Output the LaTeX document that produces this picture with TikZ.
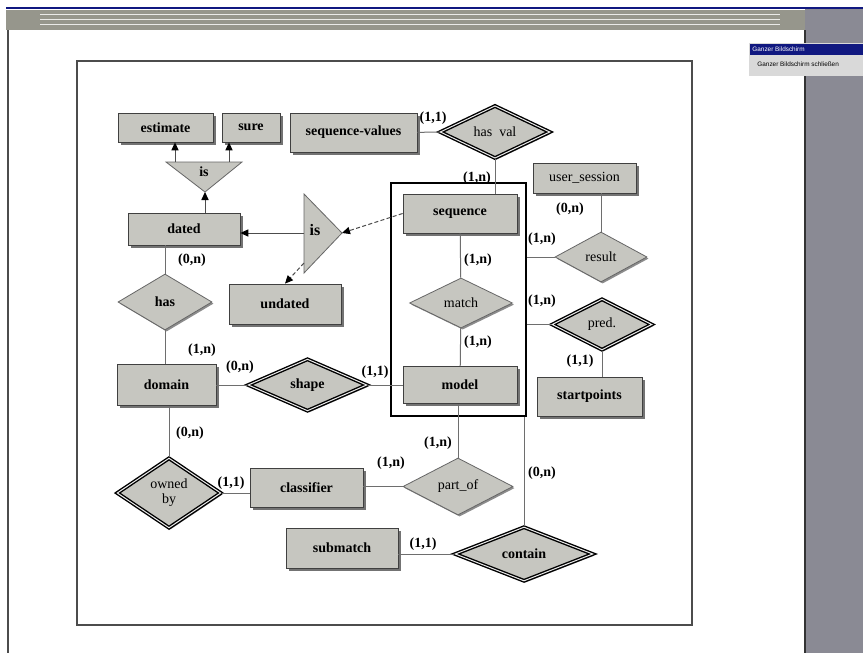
\documentclass[tikz,border=0pt]{standalone}
\usepackage{fontspec}
\setmainfont{Liberation Serif}
\newfontfamily\uifont{Liberation Sans}
\usetikzlibrary{arrows.meta}
\usetikzlibrary{shapes.geometric, shadows}

\definecolor{erfill}{RGB}{198,198,192}
\definecolor{erline}{RGB}{110,110,110}
\definecolor{barblue}{RGB}{16,24,128}
\definecolor{bargray}{RGB}{150,150,140}
\definecolor{sidegray}{RGB}{138,138,148}

\tikzset{
  entity/.style={draw=black!75, fill=erfill, inner sep=0pt,
    font=\bfseries\fontsize{7}{8}\selectfont,
    drop shadow={shadow xshift=1.4pt, shadow yshift=-1.4pt, fill=black!55, opacity=1}},
  relation/.style={diamond, draw=black!60, fill=erfill, inner sep=0pt,
    font=\fontsize{7}{8}\selectfont,
    drop shadow={shadow xshift=0.8pt, shadow yshift=-0.8pt, fill=black!45, opacity=1}},
  weakrel/.style={relation, draw=black, line width=0.7pt, double=white!85!gray,
    double distance=0.5pt},
  card/.style={font=\bfseries\fontsize{7}{8}\selectfont, inner sep=0pt},
  isa/.style={draw=black!60, fill=erfill},
  isalink/.style={draw=black!70, line width=0.5pt},
}

\begin{document}
\begin{tikzpicture}[x=0.5pt, y=-0.5pt]
    \useasboundingbox (0,0) rectangle (863,653);

    % window around the page
    \fill[white] (0,0) rectangle (863,653);
    \fill[sidegray] (805,9) rectangle (863,653);
    \draw[black!80, line width=0.8pt] (805,30) -- (805,653);
    \fill[bargray] (6,10) rectangle (805,30);
    \foreach \yy in {14,19,24} {
      \draw[white!80!bargray, line width=0.4pt] (40,\yy) -- (780,\yy);
    }
    \draw[barblue, line width=1pt] (6,8) -- (863,8);
    \draw[black!70, line width=0.6pt] (8,30) -- (8,653);

    % popup
    \fill[black!15] (749,43) rectangle (863,76);
    \fill[barblue] (750,44) rectangle (863,55);
    \node[anchor=west, inner sep=0pt, text=white, font=\uifont\fontsize{3.2}{4}\selectfont]
      (popuptitle) at (752,49.5) {Ganzer Bildschirm};
    \begin{scope}
      \clip (749,55) rectangle (863,76);
      \node[anchor=west, inner sep=0pt, font=\uifont\fontsize{3.2}{4}\selectfont]
        (popupitem) at (757,64) {Ganzer Bildschirm schließen};
    \end{scope}

    % page frame
    \draw[black!70, line width=0.6pt] (77,61) rectangle (692,625);

    % entities
    \node[entity, minimum width=47.5pt, minimum height=14.5pt] (estimate) at (165.5,127.5) {estimate};
    \node[entity, minimum width=29pt, minimum height=14.5pt] (sure) at (251,127.5) {sure};
    \node[entity, minimum width=63.5pt, minimum height=19.5pt] (seqvalues) at (353.5,132.5) {sequence-values};
    \node[entity, minimum width=51.5pt, minimum height=15pt, font=\fontsize{7}{8}\selectfont] (usersession) at (584.5,178) {user\_session};
    \node[entity, minimum width=56pt, minimum height=16pt] (dated) at (184,229) {dated};
    \node[entity, minimum width=57pt, minimum height=19.5pt] (sequence) at (460,213.5) {sequence};
    \node[entity, minimum width=56pt, minimum height=20pt] (undated) at (285,304) {undated};
    \node[entity, minimum width=49.5pt, minimum height=20.5pt] (domain) at (166.5,385) {domain};
    \node[entity, minimum width=57pt, minimum height=18.5pt] (model) at (460,385) {model};
    \node[entity, minimum width=52.5pt, minimum height=19.5pt] (startpoints) at (589.5,396.5) {startpoints};
    \node[entity, minimum width=56.5pt, minimum height=19.5pt] (classifier) at (306.5,487.5) {classifier};
    \node[entity, minimum width=56pt, minimum height=20pt] (submatch) at (342,548) {submatch};

    % aggregation round sequence and model
    \node[draw=black, line width=0.9pt, minimum width=67.5pt, minimum height=116.5pt] (agg) at (458.5,299.5) {};

    % relationships
    \node[weakrel, minimum width=55pt, minimum height=20.5pt] (hasval) at (495,132) {has\ \ val};
    \node[relation, minimum width=46pt, minimum height=25pt] (result) at (601,257) {result};
    \node[relation, minimum width=47pt, minimum height=28pt, font=\bfseries\fontsize{7}{8}\selectfont] (has) at (165,302) {has};
    \node[relation, minimum width=51.5pt, minimum height=25pt] (match) at (461,303) {match};
    \node[weakrel, minimum width=50pt, minimum height=25.5pt] (pred) at (602,324.5) {pred.};
    \node[weakrel, minimum width=59.5pt, minimum height=26pt, font=\bfseries\fontsize{7}{8}\selectfont] (shape) at (307.5,385) {shape};
    \node[relation, minimum width=55pt, minimum height=28.5pt] (partof) at (458,486.5) {part\_of};
    \node[weakrel, minimum width=52pt, minimum height=35pt, align=center, font=\fontsize{7}{7.5}\selectfont] (ownedby) at (169,493) {owned\\by};
    \node[weakrel, minimum width=69pt, minimum height=26pt, font=\bfseries\fontsize{7}{8}\selectfont] (contain) at (524,554) {contain};

    % is-a triangles
    \draw[isa] (166,162) -- (242,162) -- (205,192) -- cycle;
    \coordinate (isAapex) at (205,192);
    \coordinate (isAone) at (175,162);
    \coordinate (isAtwo) at (229,162);
    \node[card] (isAlabel) at (204,172) {is};
    \draw[isa] (304,194) -- (304,273) -- (342,233) -- cycle;
    \coordinate (isBapex) at (342,233);
    \coordinate (isBleft) at (304,233);
    \coordinate (isBlow) at (304,263);
    \node[card, font=\bfseries\fontsize{8}{9}\selectfont] (isBlabel) at (315,230) {is};

    % connectors
    \begin{scope}[>={Triangle[length=4pt, width=3.6pt, black]},
              every edge/.style={draw=erline, line width=0.5pt}]
    \path (seqvalues) edge (hasval);
    \path (hasval) edge (hasval |- sequence.north);
    \path (result |- usersession.south) edge (result.north);
    \path (agg.east |- result) edge (result.west);
    \path (agg.east |- pred) edge (pred.west);
    \path (pred.south) edge (pred.south |- startpoints.north);
    \path (sequence) edge (match);
    \path (match) edge (model);
    \path (domain) edge (shape);
    \path (shape) edge (model);
    \path (has |- dated.south) edge (has.north);
    \path (has.south) edge (has.south |- domain.north);
    \path (ownedby |- domain.south) edge (ownedby.north);
    \path (ownedby.east) edge (ownedby.east -| classifier.west);
    \path (partof.west -| classifier.east) edge (partof.west);
    \path (partof |- model.south) edge (partof.north);
    \path (contain |- agg.south) edge (contain.north);
    \path (contain.west -| submatch.east) edge (contain.west);
    \path[->] (isAone) edge[isalink] (isAone |- estimate.south);
    \path[->] (isAtwo) edge[isalink] (isAtwo |- sure.south);
    \path[->] (isAapex |- dated.north) edge[isalink] (isAapex);
    \path[->] (isBleft) edge[isalink] (isBleft -| dated.east);
    \path[->] (sequence.west) edge[isalink, dash pattern=on 2pt off 1.2pt] (isBapex);
    \path[->] (isBlow) edge[isalink, dash pattern=on 2pt off 1.2pt] (undated.north);
    \end{scope}

    % cardinalities
    \node[card] (c1) at (433,118) {(1,1)};
    \node[card] (c2) at (477,178) {(1,n)};
    \node[card] (c3) at (570,209) {(0,n)};
    \node[card] (c4) at (542,239) {(1,n)};
    \node[card] (c5) at (478,260) {(1,n)};
    \node[card] (c6) at (192,260) {(0,n)};
    \node[card] (c7) at (542,301) {(1,n)};
    \node[card] (c8) at (478,342) {(1,n)};
    \node[card] (c9) at (202,350) {(1,n)};
    \node[card] (c10) at (580,361) {(1,1)};
    \node[card] (c11) at (240,367) {(0,n)};
    \node[card] (c12) at (375,372) {(1,1)};
    \node[card] (c13) at (190,433) {(0,n)};
    \node[card] (c14) at (438,443) {(1,n)};
    \node[card] (c15) at (391,463) {(1,n)};
    \node[card] (c16) at (542,473) {(0,n)};
    \node[card] (c17) at (231,483) {(1,1)};
    \node[card] (c18) at (423,544) {(1,1)};

\end{tikzpicture}
\end{document}
